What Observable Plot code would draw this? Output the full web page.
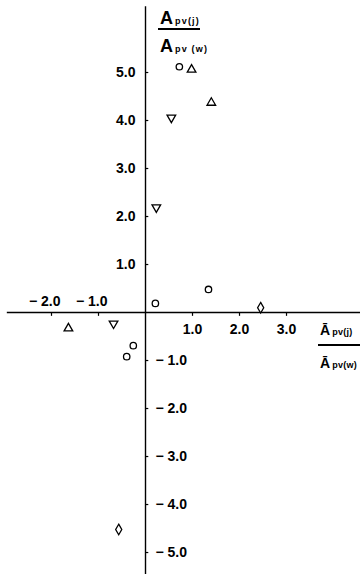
<!DOCTYPE html>
<html><head><meta charset="utf-8">
<script src="https://cdn.jsdelivr.net/npm/d3@7"></script>
<script src="https://cdn.jsdelivr.net/npm/@observablehq/plot@0.6"></script>
<style>
body{margin:0;background:#fff}
#chart svg{display:block;overflow:hidden}
#chart svg text{font-stretch:condensed}
</style>
</head><body><div id="chart"></div>
<script>
// ---- data ----
const circleX = [0.72, 0.21, 1.34, -0.26, -0.40];
const circleY = [5.12, 0.19, 0.48, -0.69, -0.92];
const triUpX = [0.98, 1.40, -1.64];
const triUpY = [5.06, 4.37, -0.33];
const triDownX = [0.55, 0.23, -0.68];
const triDownY = [4.06, 2.19, -0.23];
const diamondX = [2.45, -0.57];
const diamondY = [0.10, -4.52];

const xTicksPos = [1, 2, 3];
const xTickLabelsPos = ["1.0", "2.0", "3.0"];
const xTicksNeg = [-2, -1];
const xTickLabelsNeg = ["\u2212 2.0", "\u2212 1.0"];
const yTicksPos = [1, 2, 3, 4, 5];
const yTickLabelsPos = ["1.0", "2.0", "3.0", "4.0", "5.0"];
const yTicksNeg = [-1, -2, -3, -4, -5];
const yTickLabelsNeg = ["\u2212 1.0", "\u2212 2.0", "\u2212 3.0", "\u2212 4.0", "\u2212 5.0"];

const xDomain = [-3.085, 4.574];
const yDomain = [-5.458, 6.5];
const xAxisExtent = [-2.94, 4.6];
const yAxisExtent = [6.37, -5.46];

const FONT = "'Liberation Sans Narrow','Liberation Sans',Arial,sans-serif";

const triangleDown = {
  draw(context, size) {
    const y = -Math.sqrt(size / (Math.sqrt(3) * 3));
    context.moveTo(0, -y * 2);
    context.lineTo(-Math.sqrt(3) * y, y);
    context.lineTo(Math.sqrt(3) * y, y);
    context.closePath();
  }
};

const pts = (xs, ys) => xs.map((x, i) => ({x, y: ys[i]}));
const markOpts = {x: "x", y: "y", stroke: "black", fill: "white", strokeWidth: 1.3};

const plot = Plot.plot({
  width: 360,
  height: 574,
  marginLeft: 0, marginRight: 0, marginTop: 0, marginBottom: 0,
  x: {domain: xDomain, axis: null},
  y: {domain: yDomain, axis: null},
  style: {fontFamily: FONT, background: "white", color: "black"},
  marks: [
    Plot.ruleY([0], {x1: xAxisExtent[0], x2: xAxisExtent[1], stroke: "black", strokeWidth: 1.4}),
    Plot.ruleX([0], {y1: yAxisExtent[0], y2: yAxisExtent[1], stroke: "black", strokeWidth: 1.4}),
    Plot.ruleX(xTicksPos.concat(xTicksNeg), {x: d => d, y1: 0, y2: -0.08, stroke: "black", strokeWidth: 1.2}),
    Plot.ruleY(yTicksPos.concat(yTicksNeg), {y: d => d, x1: 0, x2: 0.07, stroke: "black", strokeWidth: 1.2}),
    Plot.text(yTicksPos, {x: 0, y: d => d, text: (d, i) => yTickLabelsPos[i], textAnchor: "end", dx: -10, fontSize: 14, fontWeight: "bold"}),
    Plot.text(yTicksNeg, {x: 0, y: d => d, text: (d, i) => yTickLabelsNeg[i], textAnchor: "start", dx: 10, fontSize: 14, fontWeight: "bold"}),
    Plot.text(xTicksPos, {x: d => d, y: 0, text: (d, i) => xTickLabelsPos[i], textAnchor: "middle", dy: 17, fontSize: 14, fontWeight: "bold"}),
    Plot.text(xTicksNeg, {x: d => d, y: 0, text: (d, i) => xTickLabelsNeg[i], textAnchor: "end", dx: 9, dy: -11, fontSize: 14, fontWeight: "bold"}),
    Plot.dot(pts(circleX, circleY), {...markOpts, symbol: "circle", r: 3.2}),
    Plot.dot(pts(triUpX, triUpY), {...markOpts, symbol: "triangle", r: 3.2}),
    Plot.dot(pts(triDownX, triDownY), {...markOpts, symbol: triangleDown, r: 3.2}),
    Plot.dot(pts(diamondX, diamondY), {...markOpts, symbol: "diamond", r: 3.2})
  ]
});

const svg = d3.select(plot);
function frac(g, x, yTop, yBar, yBot, lineX1, lineX2, big, bigSize, subTop, subBot, spacing) {
  const mk = (y, sub) => {
    const t = g.append("text").attr("x", x).attr("y", y).attr("text-anchor", "start")
      .attr("font-family", FONT).attr("font-weight", "bold").attr("fill", "black");
    t.append("tspan").attr("font-size", bigSize).text(big);
    t.append("tspan").attr("font-size", 9).attr("dx", 2).attr("letter-spacing", spacing).text(sub);
  };
  mk(yTop, subTop);
  g.append("line").attr("x1", lineX1).attr("x2", lineX2).attr("y1", yBar).attr("y2", yBar)
    .attr("stroke", "black").attr("stroke-width", 2);
  mk(yBot, subBot);
}
const g = svg.append("g");
frac(g, 160, 24, 29, 52, 158, 200, "A", 18, "pv(j)", "pv (w)", 1.2);
frac(g, 320, 335, 345, 368, 318, 360, "\u0100", 14, "pv(j)", "pv(w)", 0.3);

document.getElementById("chart").appendChild(plot);
</script>
</body></html>
